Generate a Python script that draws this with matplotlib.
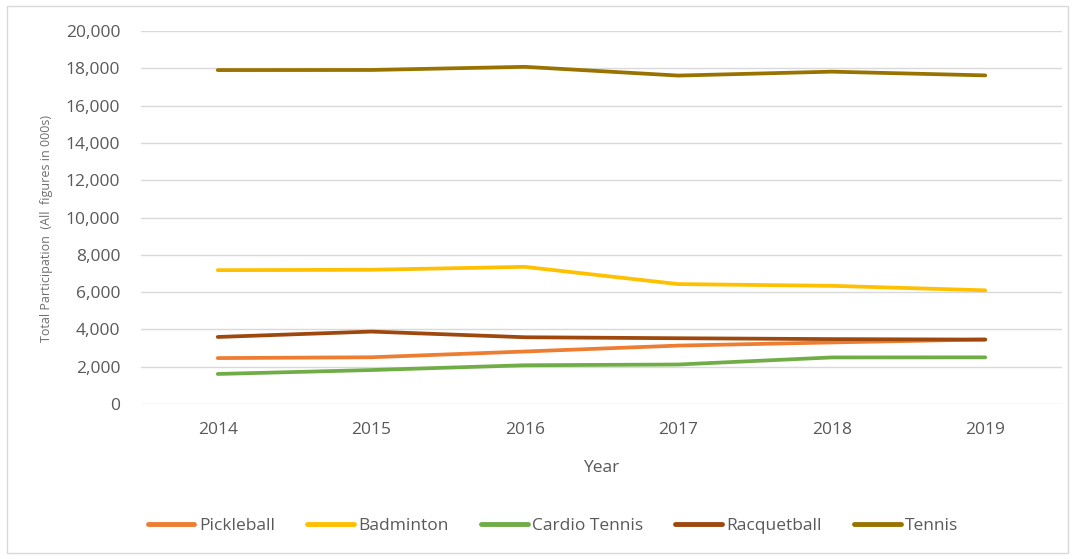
import matplotlib
matplotlib.use("Agg")
import matplotlib.pyplot as plt
from matplotlib.patches import Rectangle
from matplotlib.ticker import FuncFormatter

years = ["2014", "2015", "2016", "2017", "2018", "2019"]
pickleball = [2462, 2506, 2815, 3132, 3301, 3460]
badminton = [7176, 7198, 7354, 6430, 6337, 6095]
cardio_tennis = [1610, 1821, 2078, 2118, 2497, 2501]
racquetball = [3594, 3883, 3579, 3526, 3480, 3453]
tennis = [17904, 17910, 18079, 17610, 17820, 17620]

series_names = ["Pickleball", "Badminton", "Cardio Tennis", "Racquetball", "Tennis"]
series_values = [pickleball, badminton, cardio_tennis, racquetball, tennis]
series_colors = ["#ED7D31", "#FFC000", "#70AD47", "#9E480E", "#997300"]

plt.rcParams["font.family"] = ["Open Sans", "DejaVu Sans"]
text_color = "#595959"

W, H = 1074, 559
fig = plt.figure(figsize=(W / 100, H / 100), dpi=100)
fig.patch.set_facecolor("white")

# outer chart border
fig.patches.append(Rectangle((7 / W, 6 / H), 1061 / W, 547 / H, transform=fig.transFigure,
                             fill=False, edgecolor="#D9D9D9", linewidth=1.0))

left, right, top, bottom = 141, 1062, 31, 404
ax = fig.add_axes([left / W, 1 - bottom / H, (right - left) / W, (bottom - top) / H])

x = list(range(len(years)))
for name, vals, col in zip(series_names, series_values, series_colors):
    ax.plot(x, vals, color=col, linewidth=2.7, label=name, solid_capstyle="round",
            solid_joinstyle="round")

ax.set_xlim(-0.5, len(years) - 0.5)
ax.set_ylim(0, 20000)
ax.set_yticks(range(0, 20001, 2000))
ax.yaxis.set_major_formatter(FuncFormatter(lambda v, p: f"{int(v):,}"))
ax.set_xticks(x)
ax.set_xticklabels(years)

ax.grid(axis="y", color="#D9D9D9", linewidth=1.0)
ax.set_axisbelow(True)
for s in ax.spines.values():
    s.set_visible(False)
ax.tick_params(axis="both", length=0, labelsize=12.5, labelcolor=text_color)
ax.tick_params(axis="y", pad=15)
ax.tick_params(axis="x", pad=13)

ax.set_xlabel("Year", fontsize=12.5, color=text_color, labelpad=16)
fig.text(47 / W, 1 - 228 / H, "Total Participation  (All  figures in 000s)", rotation=90,
         ha="center", va="center", fontsize=9, color="#6E6E6E")

handles, labels = ax.get_legend_handles_labels()
leg = fig.legend(handles, labels, loc="center", bbox_to_anchor=(553 / W, 1 - 526 / H),
                 ncol=5, frameon=False, fontsize=12.5, handlelength=2.7,
                 handletextpad=0.25, columnspacing=1.85)
for t in leg.get_texts():
    t.set_color(text_color)
for lh in leg.get_lines():
    lh.set_linewidth(3.5)

fig.savefig("out.png", dpi=100, facecolor="white")
